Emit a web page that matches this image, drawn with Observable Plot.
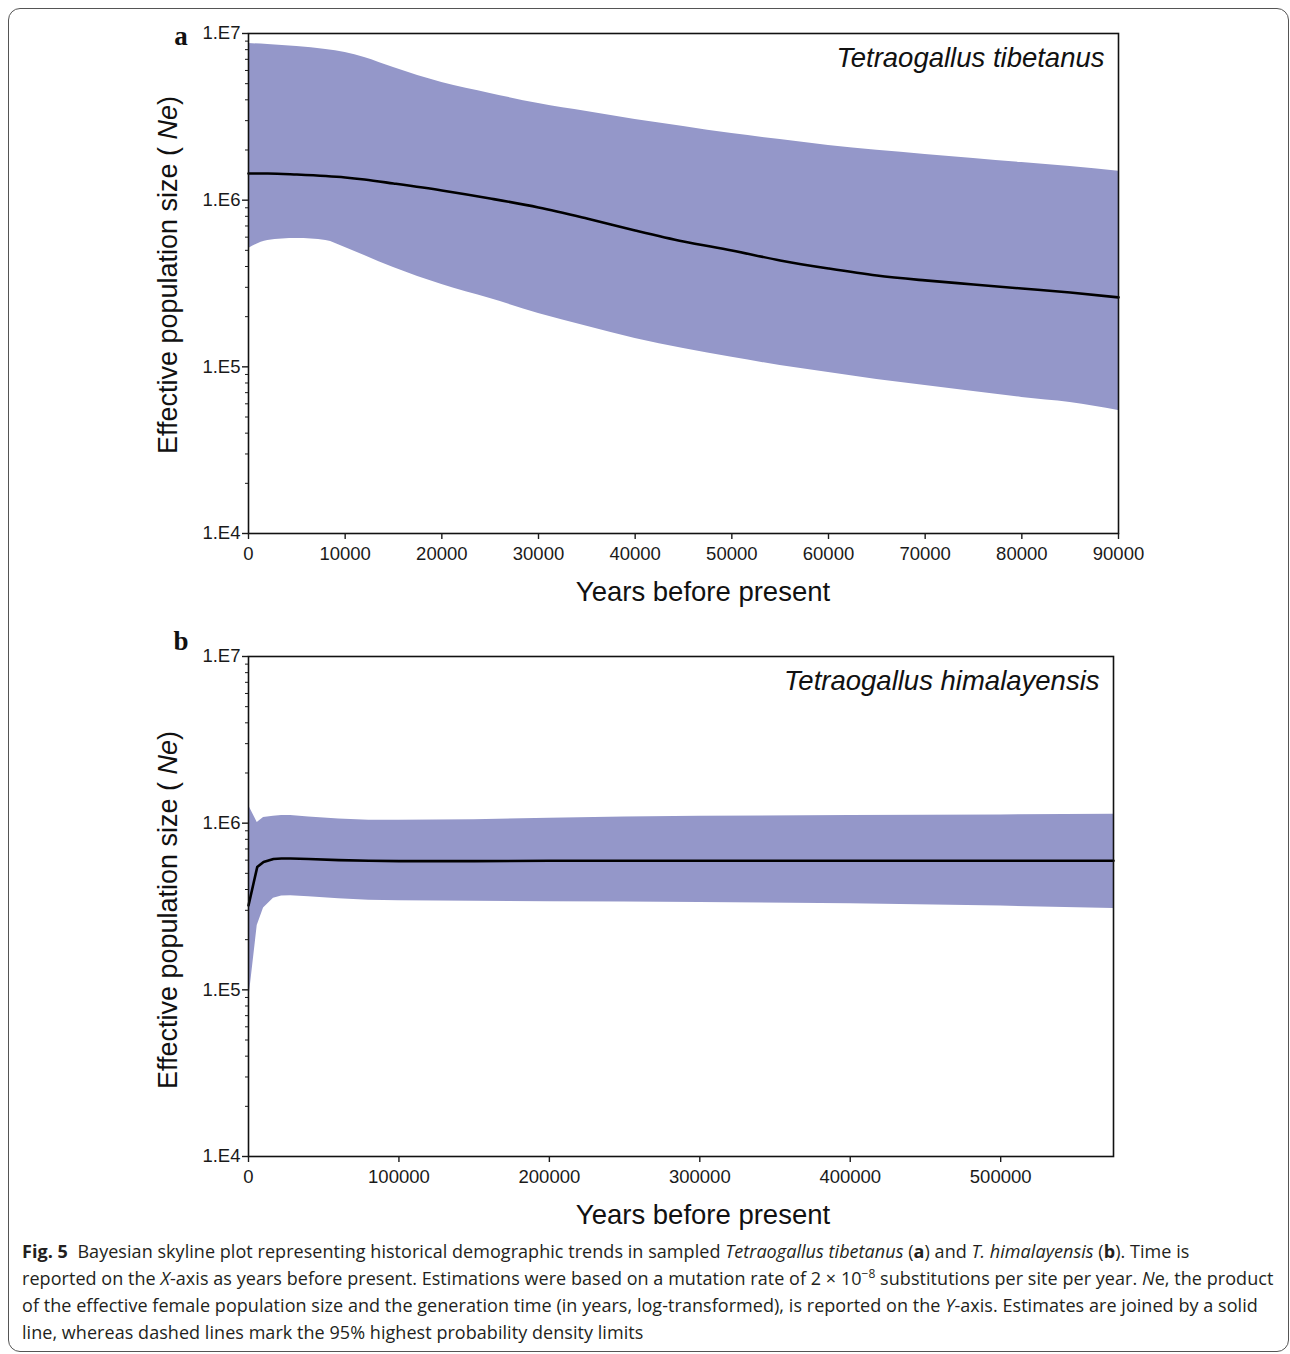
<!DOCTYPE html>
<html><head><meta charset="utf-8">
<script src="https://cdn.jsdelivr.net/npm/d3@7"></script>
<script src="https://cdn.jsdelivr.net/npm/@observablehq/plot@0.6"></script>
<style>
body{margin:0;background:#fff;width:1290px;height:1354px;overflow:hidden;position:relative;font-family:"Liberation Sans",Arial,sans-serif}
#frame{position:absolute;left:8px;top:8px;width:1281px;height:1344px;border:1.3px solid #555;border-radius:12px;box-sizing:border-box}
#pa{position:absolute;left:0;top:0}
#pb{position:absolute;left:0;top:623px}
#cap{position:absolute;left:22px;top:1238px;font-family:"Open Sans","Noto Sans",sans-serif;font-size:18px;line-height:27px;color:#231f20;letter-spacing:0.05px}
#cap div{white-space:nowrap}
</style></head>
<body>
<div id="frame"></div>
<div id="pa"></div>
<div id="pb"></div>
<div id="cap">
<div><b>Fig. 5</b>&nbsp; Bayesian skyline plot representing historical demographic trends in sampled <i>Tetraogallus tibetanus</i> (<b>a</b>) and <i>T. himalayensis</i> (<b>b</b>). Time is</div>
<div>reported on the <i>X</i>-axis as years before present. Estimations were based on a mutation rate of 2 × 10<sup style="font-size:12px;line-height:0">−8</sup> substitutions per site per year. <i>N</i>e, the product</div>
<div>of the effective female population size and the generation time (in years, log-transformed), is reported on the <i>Y</i>-axis. Estimates are joined by a solid</div>
<div>line, whereas dashed lines mark the 95% highest probability density limits</div>
</div>
<script>
// Panel a: Tetraogallus tibetanus
const yearsA = [0,2000,5000,8000,10000,12000,15000,20000,25000,30000,35000,40000,45000,50000,55000,60000,65000,70000,75000,80000,85000,90000];
const medianA = [1.445e6,1.445e6,1.425e6,1.396e6,1.368e6,1.330e6,1.259e6,1.143e6,1.023e6,9.04e5,7.76e5,6.58e5,5.65e5,4.99e5,4.35e5,3.89e5,3.53e5,3.30e5,3.12e5,2.95e5,2.79e5,2.61e5];
const upperA = [8.71e6,8.59e6,8.36e6,8.02e6,7.69e6,7.18e6,6.25e6,5.08e6,4.37e6,3.80e6,3.40e6,3.05e6,2.77e6,2.51e6,2.31e6,2.13e6,1.99e6,1.88e6,1.78e6,1.68e6,1.59e6,1.49e6];
const lowerA = [5.13e5,5.73e5,5.89e5,5.73e5,5.20e5,4.66e5,3.94e5,3.12e5,2.57e5,2.09e5,1.75e5,1.48e5,1.29e5,1.14e5,1.02e5,9.25e4,8.40e4,7.73e4,7.11e4,6.55e4,6.11e4,5.47e4];
const xTicksA = [0,10000,20000,30000,40000,50000,60000,70000,80000,90000];

// Panel b: Tetraogallus himalayensis
const yearsB = [0,5800,10000,16600,22000,28000,40000,60000,80000,100000,150000,200000,250000,300000,400000,500000,575000];
const medianB = [3.21e5,5.45e5,5.85e5,6.10e5,6.14e5,6.14e5,6.10e5,6.00e5,5.95e5,5.92e5,5.92e5,5.95e5,5.95e5,5.95e5,5.95e5,5.95e5,5.95e5];
const upperB = [1.28e6,1.01e6,1.08e6,1.10e6,1.11e6,1.11e6,1.09e6,1.06e6,1.04e6,1.04e6,1.05e6,1.07e6,1.09e6,1.10e6,1.11e6,1.12e6,1.13e6];
const lowerB = [8.5e4,2.43e5,3.10e5,3.55e5,3.65e5,3.67e5,3.62e5,3.52e5,3.45e5,3.42e5,3.40e5,3.38e5,3.36e5,3.34e5,3.28e5,3.18e5,3.08e5];
const xTicksB = [0,100000,200000,300000,400000,500000];

const yMajor = [1e4,1e5,1e6,1e7];
const yMinor = [];
for (const d of [1e4,1e5,1e6]) for (let k=2;k<=9;k++) yMinor.push(k*d);

function panel({years, lo, mid, hi, xmax, xticks, right, species, curve, mb, height}) {
  const data = years.map((x,i)=>({x, lo:lo[i], mid:mid[i], hi:hi[i]}));
  return Plot.plot({
    width:1290, height, marginLeft:248, marginRight:1290-right, marginTop:33, marginBottom:mb,
    x:{domain:[0,xmax], axis:null},
    y:{type:"log", domain:[1e4,1e7], axis:null},
    style:{fontFamily:"'Liberation Sans', Arial, sans-serif", color:"#1a1a1a", background:"transparent", overflow:"visible"},
    marks:[
      Plot.areaY(data,{x:"x", y1:"lo", y2:"hi", fill:"#9497c9", curve}),
      Plot.lineY(data,{x:"x", y:"mid", stroke:"#000", strokeWidth:2.6, curve}),
      Plot.frame({stroke:"#111", strokeWidth:1.6}),
      Plot.axisY({ticks:yMinor, tickFormat:()=>"", tickSize:3, label:null, strokeWidth:1}),
      Plot.axisY({ticks:yMajor, tickFormat:d=>"1.E"+Math.round(Math.log10(d)), tickSize:6, tickPadding:2, fontSize:18.5, label:null, strokeWidth:1.4}),
      Plot.axisX({ticks:xticks, tickFormat:d=>String(d), tickSize:6, tickPadding:7, fontSize:18.5, label:null, strokeWidth:1.4}),
      Plot.text([species],{frameAnchor:"top-right", dx:-14, dy:14, text:d=>d, fontSize:27.5, fontStyle:"italic", fill:"#111"})
    ]
  });
}

function decorate(svg, letter, letterY, ylabelY) {
  const s = d3.select(svg);
  s.append("text").attr("x",181).attr("y",letterY).attr("text-anchor","middle")
    .attr("font-family","'Liberation Serif', 'Times New Roman', serif").attr("font-weight","bold")
    .attr("font-size",27).attr("fill","#111").text(letter);
  s.append("text").attr("x",703).attr("y",601).attr("text-anchor","middle")
    .attr("font-size",27.5).attr("fill","#111").text("Years before present");
  const yl = s.append("text").attr("transform",`translate(177,${ylabelY}) rotate(-90)`).attr("text-anchor","middle")
    .attr("font-size",27).attr("fill","#111");
  yl.append("tspan").text("Effective population size ( ");
  yl.append("tspan").attr("font-style","italic").text("Ne");
  yl.append("tspan").text(")");
}

const svgA = panel({years:yearsA, lo:lowerA, mid:medianA, hi:upperA, xmax:90000, xticks:xTicksA, right:1118,
  species:"Tetraogallus tibetanus", curve:"monotone-x", mb:90, height:623});
decorate(svgA, "a", 45, 275);
document.getElementById("pa").appendChild(svgA);

const svgB = panel({years:yearsB, lo:lowerB, mid:medianB, hi:upperB, xmax:575000, xticks:xTicksB, right:1113,
  species:"Tetraogallus himalayensis", curve:"linear", mb:80, height:613});
decorate(svgB, "b", 27, 287);
document.getElementById("pb").appendChild(svgB);
</script>
</body></html>
